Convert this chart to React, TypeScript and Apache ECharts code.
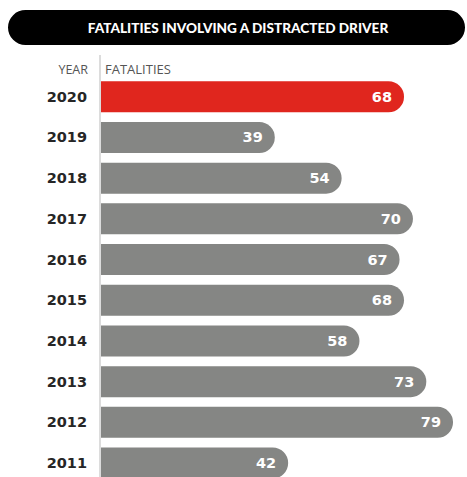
import React, { useEffect, useRef } from "react";
import * as echarts from "echarts";

const years = ["2020", "2019", "2018", "2017", "2016", "2015", "2014", "2013", "2012", "2011"];
const fatalities = [68, 39, 54, 70, 67, 68, 58, 73, 79, 42];
const highlightYear = "2020";
const titleText = "FATALITIES INVOLVING A DISTRACTED DRIVER";

export default function App() {
  const ref = useRef<HTMLDivElement>(null);
  useEffect(() => {
    document.body.style.margin = "0";
    document.body.style.overflow = "hidden";
    const chart = echarts.init(ref.current!, undefined, { renderer: "svg" });
    chart.setOption({
      animation: false,
      grid: { left: 101, top: 76.4, width: 356.5, height: 407, containLabel: false },
      xAxis: { type: "value", min: 0, max: 80, show: false },
      yAxis: {
        type: "category",
        data: years,
        inverse: true,
        axisLine: { show: false },
        axisTick: { show: false },
        axisLabel: {
          margin: 14,
          fontFamily: "DejaVu Sans",
          fontWeight: "bold",
          fontSize: 14.5,
          color: "#262626",
        },
      },
      graphic: [
        {
          type: "rect",
          shape: { x: 8, y: 10, width: 457, height: 35, r: 17.5 },
          style: { fill: "#000" },
        },
        {
          type: "text",
          x: 238,
          y: 27.5,
          style: {
            text: titleText,
            fill: "#fff",
            font: "900 13.6px Lato",
            align: "center",
            verticalAlign: "middle",
          },
        },
        {
          type: "line",
          shape: { x1: 100, y1: 55, x2: 100, y2: 477 },
          style: { stroke: "#dcdcdc", lineWidth: 2 },
        },
        {
          type: "text",
          x: 88,
          y: 69,
          style: { text: "YEAR", fill: "#555", font: "12.5px 'Open Sans'", align: "right", verticalAlign: "middle" },
        },
        {
          type: "text",
          x: 105,
          y: 69,
          style: { text: "FATALITIES", fill: "#555", font: "13px 'Open Sans'", align: "left", verticalAlign: "middle" },
        },
      ],
      series: [
        {
          type: "bar",
          data: fatalities,
          barWidth: 31,
          itemStyle: {
            borderRadius: [0, 15.5, 15.5, 0],
            color: (p: any) => (years[p.dataIndex] === highlightYear ? "#e0261e" : "#858684"),
          },
          label: {
            show: true,
            position: "insideRight",
            distance: 12,
            color: "#fff",
            fontFamily: "DejaVu Sans",
            fontWeight: "bold",
            fontSize: 14.5,
          },
        },
      ],
    });
    return () => chart.dispose();
  }, []);
  return (
    <div style={{ width: 467, height: 477, overflow: "hidden" }}>
      <div ref={ref} style={{ width: 467, height: 500 }} />
    </div>
  );
}
